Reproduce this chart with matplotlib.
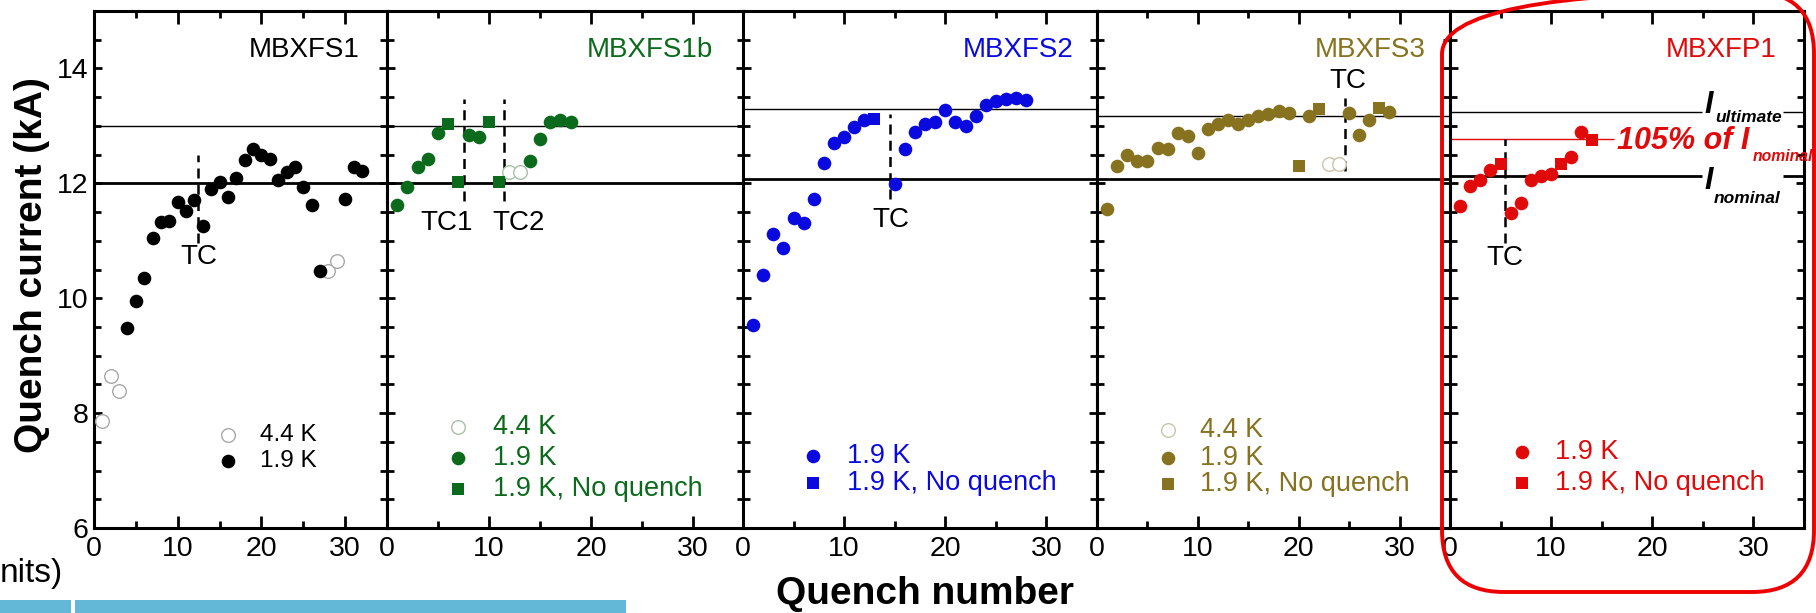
"""
Quench training of the MBXF short models / prototype, five panels side by side.
"""
import matplotlib
matplotlib.use("Agg")
import matplotlib.pyplot as plt
from matplotlib.patches import FancyBboxPatch, Rectangle
from matplotlib.transforms import IdentityTransform
from matplotlib.ticker import MultipleLocator

plt.rcParams["font.family"] = ["Liberation Sans", "DejaVu Sans"]

# ---- data (quench number, quench current in kA) ----
names = ["MBXFS1", "MBXFS1b", "MBXFS2", "MBXFS3", "MBXFP1"]
colors = ["#000000", "#0b6a1c", "#0a0ae0", "#86721f", "#e00a0a"]

s1_q = [4, 5, 6, 7, 8, 9, 10, 11, 12, 13, 14, 15, 16, 17, 18, 19, 20, 21, 22,
        23, 24, 25, 26, 27, 30, 31, 32]
s1_i = [9.48, 9.95, 10.36, 11.04, 11.32, 11.34, 11.68, 11.51, 11.71, 11.25,
        11.90, 12.02, 11.76, 12.09, 12.41, 12.60, 12.50, 12.43, 12.05, 12.20,
        12.29, 11.94, 11.62, 10.48, 11.73, 12.29, 12.21]
s1_open_q = [1, 2, 3, 28, 29]
s1_open_i = [7.86, 8.65, 8.39, 10.47, 10.64]

s1b_q = [1, 2, 3, 4, 5, 8, 9, 14, 15, 16, 17, 18]
s1b_i = [11.62, 11.94, 12.29, 12.42, 12.87, 12.85, 12.81, 12.39, 12.77, 13.06,
         13.10, 13.07]
s1b_nq_q = [6, 7, 10, 11]
s1b_nq_i = [13.04, 12.02, 13.06, 12.02]
s1b_open_q = [12, 13]
s1b_open_i = [12.19, 12.20]

s2_q = [1, 2, 3, 4, 5, 6, 7, 8, 9, 10, 11, 12, 15, 16, 17, 18, 19, 20, 21, 22,
        23, 24, 25, 26, 27, 28]
s2_i = [9.53, 10.41, 11.12, 10.87, 11.39, 11.31, 11.72, 12.36, 12.71, 12.80,
        12.98, 13.10, 11.98, 12.59, 12.89, 13.03, 13.07, 13.27, 13.07, 13.00,
        13.18, 13.36, 13.43, 13.46, 13.49, 13.45]
s2_nq_q = [13]
s2_nq_i = [13.12]

s3_q = [1, 2, 3, 4, 5, 6, 7, 8, 9, 10, 11, 12, 13, 14, 15, 16, 17, 18, 19, 21,
        25, 26, 27, 29]
s3_i = [11.56, 12.30, 12.49, 12.39, 12.39, 12.62, 12.59, 12.88, 12.82, 12.53,
        12.94, 13.04, 13.10, 13.04, 13.11, 13.17, 13.20, 13.26, 13.22, 13.18,
        13.22, 12.85, 13.10, 13.24]
s3_nq_q = [20, 22, 28]
s3_nq_i = [12.30, 13.30, 13.32]
s3_open_q = [23, 24]
s3_open_i = [12.33, 12.33]

p1_q = [1, 2, 3, 4, 6, 7, 8, 9, 10, 12, 13]
p1_i = [11.60, 11.95, 12.05, 12.23, 11.49, 11.65, 12.06, 12.13, 12.17, 12.46,
        12.89]
p1_nq_q = [5, 11, 14]
p1_nq_i = [12.33, 12.33, 12.75]

i_ultimate = [13.0, 13.0, 13.30, 13.17, 13.24]
i_nominal = [12.0, 12.0, 12.07, 12.07, 12.12]
i_105 = 12.77

# thermal cycle markers: (x, y_top, y_bottom, label, label_x, label_y)
tc_marks = [
    [(12.4, 12.50, 10.97, "TC", 12.5, 10.71)],
    [(7.5, 13.46, 11.69, "TC1", 5.85, 11.31), (11.5, 13.46, 11.69, "TC2", 12.9, 11.31)],
    [(14.5, 13.20, 11.72, "TC", 14.6, 11.37)],
    [(24.55, 13.49, 12.21, "TC", 24.9, 13.78)],
    [(5.45, 12.77, 10.97, "TC", 5.45, 10.70)],
]

# ---- layout (pixels of the 1816 x 613 picture) ----
W, H = 1816, 613
panel_px = [(94, 387), (387, 744), (743, 1097), (1097, 1450), (1450, 1804)]
top_px, bot_px = 11, 528
title_x = [31.7, 32.0, 32.7, 32.6, 32.3]

fig = plt.figure(figsize=(W / 100, H / 100), dpi=100)
axes = []
for k, (x0, x1) in enumerate(panel_px):
    ax = fig.add_axes([x0 / W, 1 - bot_px / H, (x1 - x0) / W, (bot_px - top_px) / H])
    ax.set_xlim(0, 35)
    ax.set_ylim(6, 15)
    ax.xaxis.set_major_locator(MultipleLocator(10))
    ax.xaxis.set_minor_locator(MultipleLocator(5))
    ax.yaxis.set_major_locator(MultipleLocator(2))
    ax.yaxis.set_minor_locator(MultipleLocator(0.5))
    ax.tick_params(which="both", direction="in", top=True, right=True, width=2,
                   labelsize=20.5)
    ax.tick_params(axis="x", which="major", length=9, pad=6)
    ax.tick_params(axis="x", which="minor", length=5)
    ax.tick_params(axis="y", which="major", length=6, pad=4)
    ax.tick_params(axis="y", which="minor", length=5)
    if k > 0:
        ax.tick_params(axis="y", labelleft=False)
    for sp in ax.spines.values():
        sp.set_linewidth(2.2)
    ax.text(title_x[k], 14.32, names[k], color=colors[k], fontsize=20,
            ha="right", va="center")
    for (tx, yt, yb, lab, lx, ly) in tc_marks[k]:
        ax.plot([tx, tx], [yb, yt], color="black", lw=1.8, ls=(0, (4, 2.5)), zorder=2)
        ax.text(lx, ly, lab, fontsize=20, ha="center", va="center", color="black")
    axes.append(ax)

ms_c, ms_s = 9.8, 8.7


def reference_lines(ax, k, x_end=35):
    ax.hlines(i_ultimate[k], 0, x_end, color="black", lw=1.0, zorder=1)
    ax.hlines(i_nominal[k], 0, x_end, color="black", lw=2.0, zorder=1)


def circles(ax, q, i, c):
    ax.plot(q, i, ls="", marker="o", ms=ms_c, mfc=c, mec=c, mew=0, zorder=3)


def squares(ax, q, i, c):
    ax.plot(q, i, ls="", marker="s", ms=ms_s, mfc=c, mec=c, mew=0, zorder=4)


def opens(ax, q, i, edge):
    ax.plot(q, i, ls="", marker="o", ms=ms_c, mfc="white", mec=edge, mew=1.0, zorder=3)


def legend(ax, rows, c, mx, tx, fs):
    for (kind, y, label, edge) in rows:
        if kind == "o":
            opens(ax, [mx], [y], edge)
        elif kind == "c":
            circles(ax, [mx], [y], c)
        else:
            squares(ax, [mx], [y], c)
        ax.text(tx, y, label, color=c, fontsize=fs, ha="left", va="center")


# MBXFS1
ax = axes[0]
reference_lines(ax, 0)
opens(ax, s1_open_q, s1_open_i, "#a8a8a8")
circles(ax, s1_q, s1_i, colors[0])
legend(ax, [("o", 7.62, "4.4 K", "#a8a8a8"), ("c", 7.17, "1.9 K", None)],
       colors[0], 16, 19.8, 17.5)

# MBXFS1b
ax = axes[1]
reference_lines(ax, 1)
opens(ax, s1b_open_q, s1b_open_i, "#a9bfa9")
circles(ax, s1b_q, s1b_i, colors[1])
squares(ax, s1b_nq_q, s1b_nq_i, colors[1])
legend(ax, [("o", 7.76, "4.4 K", "#a9bfa9"), ("c", 7.22, "1.9 K", None),
            ("s", 6.68, "1.9 K, No quench", None)], colors[1], 7.0, 10.4, 19.5)

# MBXFS2
ax = axes[2]
reference_lines(ax, 2)
circles(ax, s2_q, s2_i, colors[2])
squares(ax, s2_nq_q, s2_nq_i, colors[2])
legend(ax, [("c", 7.25, "1.9 K", None), ("s", 6.79, "1.9 K, No quench", None)],
       colors[2], 6.9, 10.3, 19.5)

# MBXFS3
ax = axes[3]
reference_lines(ax, 3)
opens(ax, s3_open_q, s3_open_i, "#cbc3aa")
circles(ax, s3_q, s3_i, colors[3])
squares(ax, s3_nq_q, s3_nq_i, colors[3])
legend(ax, [("o", 7.70, "4.4 K", "#cbc3aa"), ("c", 7.22, "1.9 K", None),
            ("s", 6.76, "1.9 K, No quench", None)], colors[3], 7.0, 10.2, 19.5)

# MBXFP1
ax = axes[4]
ax.hlines(i_ultimate[4], 0, 24.9, color="black", lw=1.0, zorder=1)
ax.hlines(i_ultimate[4], 32.9, 35, color="black", lw=1.0, zorder=1)
ax.hlines(i_nominal[4], 0, 24.9, color="black", lw=2.0, zorder=1)
ax.hlines(i_nominal[4], 32.9, 35, color="black", lw=2.0, zorder=1)
ax.hlines(i_105, 0, 16.2, color=colors[4], lw=1.0, zorder=1)
circles(ax, p1_q, p1_i, colors[4])
squares(ax, p1_nq_q, p1_nq_i, colors[4])
legend(ax, [("c", 7.32, "1.9 K", None), ("s", 6.78, "1.9 K, No quench", None)],
       colors[4], 7.1, 10.4, 19.5)
bi = dict(fontweight="bold", style="italic", clip_on=False, va="baseline", ha="left")
ax.text(25.2, 13.22, "I", fontsize=22, color="black", **bi)
ax.text(26.2, 13.07, "ultimate", fontsize=12.5, color="black", **bi)
ax.text(25.2, 11.91, "I", fontsize=22, color="black", **bi)
ax.text(26.1, 11.66, "nominal", fontsize=12.5, color="black", **bi)
ax.text(16.5, 12.59, "105% of I", fontsize=22, color=colors[4], **bi)
ax.text(29.9, 12.39, "nominal", fontsize=11.3, color=colors[4], **bi)

# axis titles
fig.text(32 / W, 1 - 265 / H, "Quench current (kA)", rotation=90, fontsize=28,
         fontweight="bold", ha="center", va="center")
fig.text(925 / W, 1 - 594 / H, "Quench number", fontsize=28, fontweight="bold",
         ha="center", va="center")

# slide leftovers: cut text and blue bar, red highlight box
fig.text(0, 1 - 582 / H, "nits)", fontsize=24, ha="left", va="baseline")
pix = IdentityTransform()
fig.add_artist(Rectangle((0, 0), 71, 13, transform=pix, color="#63b8d8", lw=0))
fig.add_artist(Rectangle((75, 0), 551, 13, transform=pix, color="#63b8d8", lw=0))
fig.add_artist(FancyBboxPatch((1442, 21), 372, 600,
                              boxstyle="round,pad=0,rounding_size=62",
                              transform=pix, fill=False, ec="#ee0000", lw=2.8))

fig.savefig("out.png", dpi=100)
